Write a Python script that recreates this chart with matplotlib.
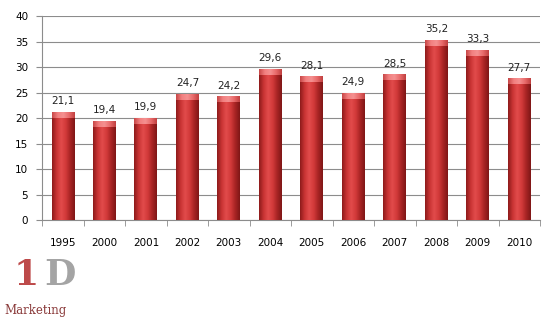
import numpy as np
import matplotlib.pyplot as plt
from matplotlib.colors import LinearSegmentedColormap

years = ["1995", "2000", "2001", "2002", "2003", "2004",
         "2005", "2006", "2007", "2008", "2009", "2010"]
values = [21.1, 19.4, 19.9, 24.7, 24.2, 29.6, 28.1, 24.9, 28.5, 35.2, 33.3, 27.7]
labels = ["21,1", "19,4", "19,9", "24,7", "24,2", "29,6",
          "28,1", "24,9", "28,5", "35,2", "33,3", "27,7"]

fig = plt.figure(figsize=(5.55, 3.2), dpi=100)
ax = fig.add_axes([0.076, 0.312, 0.897, 0.638])

x = np.arange(len(years))
bars = ax.bar(x, values, width=0.55, color="#c83434", zorder=2)

# horizontal gradient on each bar
cmap = LinearSegmentedColormap.from_list(
    "bar", ["#8e1b1b", "#c93434", "#e24b4b", "#d23a3a", "#a82424", "#7f1616"])
cap = LinearSegmentedColormap.from_list(
    "cap", ["#c84848", "#f28080", "#f59090", "#e86a6a", "#c04040"])
grad = np.linspace(0, 1, 64).reshape(1, -1)
for b in bars:
    x0, w, h = b.get_x(), b.get_width(), b.get_height()
    im = ax.imshow(grad, cmap=cmap, aspect="auto", zorder=3,
                   extent=[x0, x0 + w, 0, h])
    im.set_clip_path(b)
    # lighter bevel at the top
    ax.imshow(grad, cmap=cap, aspect="auto", zorder=4,
              extent=[x0, x0 + w, h - 1.1, h])

for xi, v, lab in zip(x, values, labels):
    ax.text(xi, v + 1.2, lab, ha="center", va="bottom", fontsize=7.5,
            color="#222222")

ax.set_xlim(-0.5, len(years) - 0.5)
ax.set_ylim(0, 40)
ax.set_yticks(range(0, 41, 5))
ax.grid(axis="y", color="#8c8c8c", linewidth=0.8, zorder=0)
ax.set_axisbelow(True)

ax.set_xticks(x)
ax.set_xticklabels(years, fontsize=7.5)
ax.set_xticks(np.arange(-0.5, len(years), 1), minor=True)
ax.tick_params(axis="x", which="major", length=0, pad=13)
ax.tick_params(axis="x", which="minor", length=4, color="#8c8c8c")
ax.tick_params(axis="y", length=4, color="#8c8c8c", labelsize=7.5, pad=6)

for side in ["top", "right"]:
    ax.spines[side].set_visible(False)
for side in ["left", "bottom"]:
    ax.spines[side].set_color("#8c8c8c")

# logo
fig.text(0.025, 0.11, "1", fontsize=26, color="#b22a2a", family="serif",
         fontweight="bold", alpha=0.85)
fig.text(0.08, 0.11, "D", fontsize=26, color="#9a9a9a", family="serif",
         fontweight="bold", alpha=0.9)
fig.text(0.008, 0.02, "Marketing", fontsize=8.5, color="#8a3a3a", family="serif")

fig.savefig("out.png", dpi=100)
